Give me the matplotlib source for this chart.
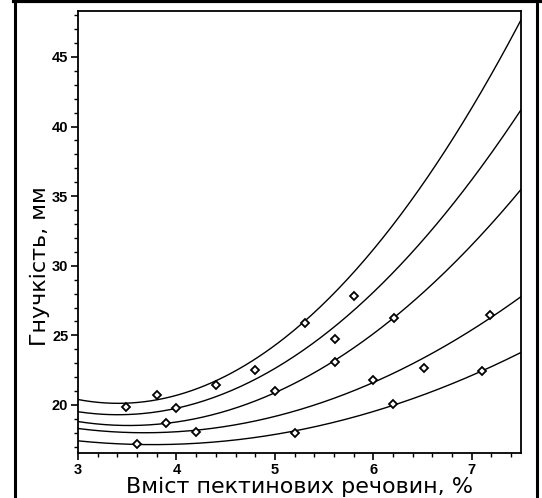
import numpy as np
import matplotlib
matplotlib.use("Agg")
import matplotlib.pyplot as plt
from matplotlib.lines import Line2D
from matplotlib.ticker import MultipleLocator

plt.rcParams['font.family'] = ['Liberation Sans', 'DejaVu Sans']

# measured points (pectin content, %; flexibility, mm)
pts_x = [3.49, 3.80, 4.00, 3.89, 4.20, 3.60, 4.40, 4.80, 5.00, 5.20, 5.31,
         5.80, 5.61, 5.61, 6.21, 6.00, 6.20, 6.51, 7.19, 7.10]
pts_y = [19.88, 20.72, 19.76, 18.68, 18.04, 17.20, 21.44, 22.49, 20.98, 18.00, 25.91,
         27.81, 24.76, 23.07, 26.25, 21.80, 20.07, 22.68, 26.44, 22.47]

# trend curves at these x values
curve_x = [3.0, 3.5, 4.0, 4.5, 5.0, 5.5, 6.0, 6.5, 7.0, 7.5]
curve1 = [20.4, 20.1, 20.7, 22.1, 24.3, 27.3, 31.2, 35.8, 41.3, 47.7]
curve2 = [19.5, 19.3, 19.8, 20.9, 22.6, 25.0, 28.1, 31.8, 36.2, 41.2]
curve3 = [18.8, 18.5, 18.8, 19.6, 20.9, 22.7, 25.1, 28.0, 31.5, 35.5]
curve4 = [18.3, 18.0, 18.1, 18.5, 19.2, 20.2, 21.6, 23.3, 25.4, 27.8]
curve5 = [17.4, 17.2, 17.2, 17.4, 17.9, 18.6, 19.5, 20.7, 22.1, 23.8]

fig = plt.figure(figsize=(5.42, 4.98), dpi=100)
ax = fig.add_axes([78/542, 1-453/498, (521-78)/542, (453-11)/498])

# smooth quadratic trend through the read values
xs = np.linspace(3.0, 7.5, 200)
for c in [curve1, curve2, curve3, curve4, curve5]:
    p = np.polyfit(curve_x, c, 2)
    ax.plot(xs, np.polyval(p, xs), color='black', lw=1.0)

ax.plot(pts_x, pts_y, ls='none', marker='D', ms=4, mfc='white', mec='black', mew=1.3)

ax.set_xlim(3, 7.5)
ax.set_ylim(16.55, 48.3)
ax.xaxis.set_major_locator(MultipleLocator(1))
ax.xaxis.set_minor_locator(MultipleLocator(0.2))
ax.yaxis.set_major_locator(plt.FixedLocator([20, 25, 30, 35, 40, 45]))
ax.yaxis.set_minor_locator(MultipleLocator(1))
ax.tick_params(which='major', direction='out', length=5, width=1.2, labelsize=10.5, pad=2)
ax.tick_params(which='minor', direction='out', length=3, width=1.0)
for lab in ax.get_xticklabels() + ax.get_yticklabels():
    lab.set_fontweight('bold')
for s in ax.spines.values():
    s.set_linewidth(1.3)

lab_font = ['DejaVu Sans']
ax.set_xlabel('Вміст пектинових речовин, %', fontsize=16, family=lab_font)
ax.xaxis.label.set_va('baseline')
ax.xaxis.set_label_coords(0.5, (453 - 493) / 442)
ax.set_ylabel('Гнучкість, мм', fontsize=16, family=lab_font)
ax.yaxis.label.set_va('center')
ax.yaxis.set_label_coords((40 - 78) / 443, 1 - (266 - 11) / 442)

# outer frame of the scanned figure
fig.add_artist(Line2D([15/542, 15/542], [0, 1], color='black', lw=2.2))
fig.add_artist(Line2D([537/542, 537/542], [0, 1], color='black', lw=2.2))
fig.add_artist(Line2D([14/542, 1], [1-1.5/498, 1-1.5/498], color='black', lw=3))

fig.savefig('out.png', dpi=100)
